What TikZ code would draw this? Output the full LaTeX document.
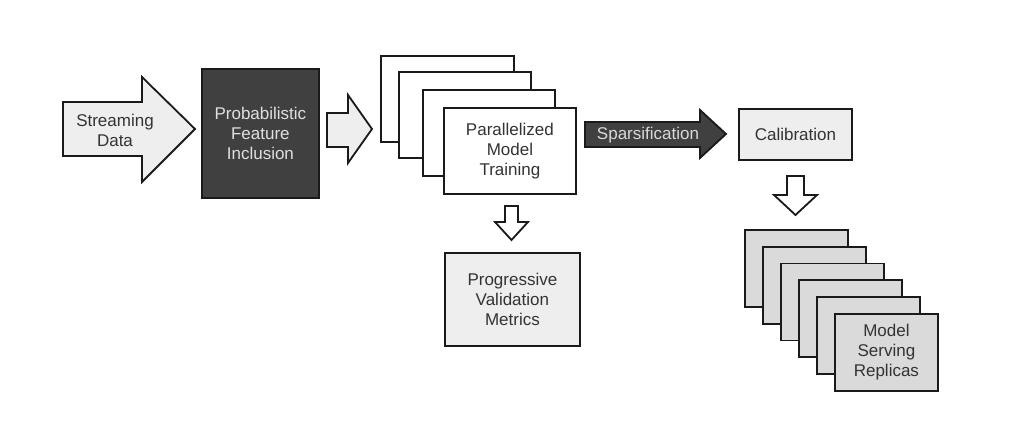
\documentclass[tikz,border=0pt]{standalone}
\usepackage{fontspec}
\setmainfont{Liberation Sans}
\definecolor{darkfill}{HTML}{404040}
\definecolor{lightfill}{HTML}{EEEEEE}
\definecolor{midfill}{HTML}{DADADA}
\definecolor{txt}{HTML}{333333}
\definecolor{edge}{HTML}{1A1A1A}
\begin{document}
\begin{tikzpicture}[x=1pt,y=-1pt,line join=miter,
  box/.style={draw=edge,line width=1.8pt,inner sep=0pt,anchor=north west,
    font=\fontsize{17}{20}\selectfont,text=txt,align=center},
  blockarrow/.style={draw=edge,line width=1.8pt,line join=miter},
  lbl/.style={font=\fontsize{17}{20}\selectfont,text=txt,align=center}]
\useasboundingbox (0,0) rectangle (1010,425);

% Streaming Data arrow
\draw[blockarrow,fill=lightfill] (63,102) -- (142,102) -- (142,77) -- (195,129) -- (142,182) -- (142,156) -- (63,156) -- cycle;
\node[lbl] (sd) at (115,130) {Streaming\\Data};

% Probabilistic Feature Inclusion
\node[box,fill=darkfill,text=white!88!black,minimum width=117,minimum height=129] (pfi) at (201,68) {Probabilistic\\Feature\\Inclusion};

% arrow to training
\draw[blockarrow,fill=lightfill] (327,113) -- (348,113) -- (348,95) -- (372,129) -- (348,163) -- (348,147) -- (327,147) -- cycle;

% Parallelized stack
\node[box,fill=white,minimum width=133,minimum height=86] (pt1) at (380,55) {};
\node[box,fill=white,minimum width=132,minimum height=86] (pt2) at (398,71) {};
\node[box,fill=white,minimum width=132,minimum height=86] (pt3) at (422,89) {};
\node[box,fill=white,minimum width=132,minimum height=86] (pmt) at (443,107) {Parallelized\\Model\\Training};

% down arrow to metrics
\draw[blockarrow,fill=white] (505,206) -- (518,206) -- (518,222) -- (528,222) -- (511.5,240) -- (495,222) -- (505,222) -- cycle;

% Progressive Validation Metrics
\node[box,fill=lightfill,minimum width=135,minimum height=93] (pvm) at (444,252) {Progressive\\Validation\\Metrics};

% Sparsification arrow
\draw[blockarrow,fill=darkfill] (585,122) -- (700,122) -- (700,110) -- (726,134) -- (700,158) -- (700,147) -- (585,147) -- cycle;
\node[lbl,text=white!85!black] (sp) at (648,135.5) {Sparsification};

% Calibration
\node[box,fill=lightfill,minimum width=113,minimum height=51] (cal) at (738,108) {Calibration};

% down arrow to serving
\draw[blockarrow,fill=white] (787,176) -- (804,176) -- (804,195) -- (817,195) -- (795.5,215) -- (774,195) -- (787,195) -- cycle;

% Model Serving Replicas stack
\foreach \i in {0,...,4}{
  \node[box,fill=midfill,minimum width=103,minimum height=77] (ms\i) at ({744+18*\i},{229+16.8*\i}) {};
}
\node[box,fill=midfill,minimum width=103,minimum height=77] (msr) at (834,313) {Model\\Serving\\Replicas};
\end{tikzpicture}
\end{document}
